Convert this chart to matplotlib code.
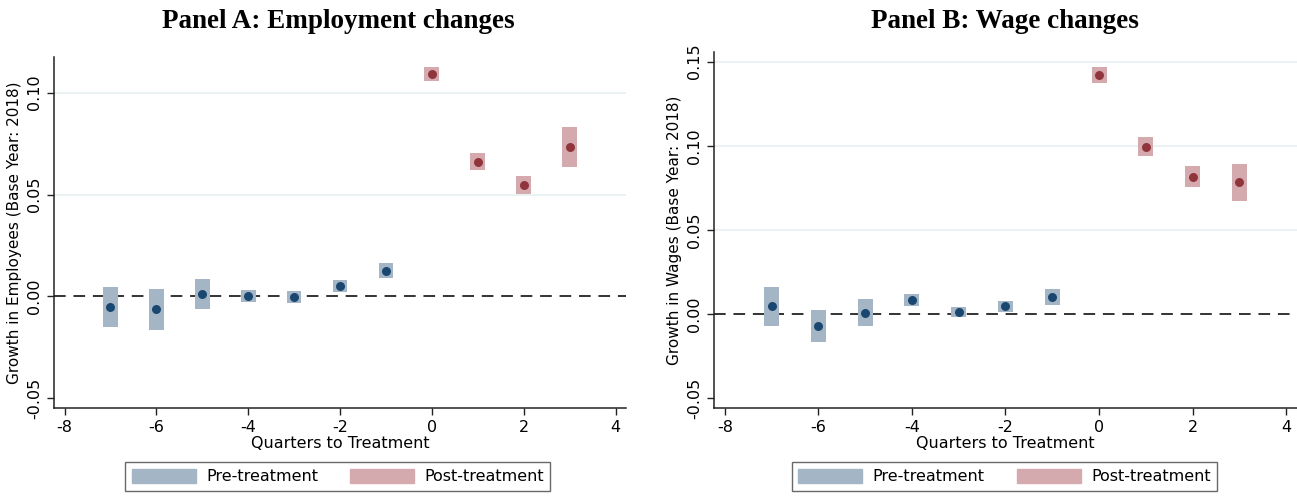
import numpy as np
import matplotlib.pyplot as plt
from matplotlib.patches import Patch

plt.rcParams['axes.unicode_minus'] = False

# Quarters relative to treatment
quarters_pre = [-7, -6, -5, -4, -3, -2, -1]
quarters_post = [0, 1, 2, 3]

# Panel A: employment (point estimate, lower CI, upper CI)
emp_pre = [-0.0054, -0.0064, 0.0013, 0.0002, -0.0002, 0.0051, 0.0127]
emp_pre_lo = [-0.0152, -0.0165, -0.0060, -0.0028, -0.0033, 0.0023, 0.0092]
emp_pre_hi = [0.0044, 0.0036, 0.0087, 0.0031, 0.0026, 0.0080, 0.0163]
emp_post = [0.1090, 0.0662, 0.0547, 0.0735]
emp_post_lo = [0.1056, 0.0619, 0.0503, 0.0636]
emp_post_hi = [0.1124, 0.0703, 0.0593, 0.0832]

# Panel B: wages
wage_pre = [0.0047, -0.0069, 0.0008, 0.0083, 0.0010, 0.0046, 0.0101]
wage_pre_lo = [-0.0071, -0.0164, -0.0069, 0.0046, -0.0020, 0.0014, 0.0053]
wage_pre_hi = [0.0160, 0.0026, 0.0087, 0.0119, 0.0040, 0.0077, 0.0148]
wage_post = [0.1421, 0.0995, 0.0817, 0.0782]
wage_post_lo = [0.1373, 0.0938, 0.0756, 0.0673]
wage_post_hi = [0.1466, 0.1051, 0.0879, 0.0891]

PRE_BOX = '#a4b5c6'
PRE_DOT = '#1a476f'
POST_BOX = '#d4aaae'
POST_DOT = '#90353b'
GRID = '#e8f0f2'


def draw_panel(fig, ax, title, title_x, ylabel, pre, pre_lo, pre_hi,
               post, post_lo, post_hi, yticks, ylim):
    for yt in yticks:
        if yt > 0:
            ax.axhline(yt, color=GRID, lw=1.2, zorder=0)
    ax.axhline(0, color='#333333', lw=1.4, ls=(0, (6, 4)), zorder=1)

    pre_lo = np.array(pre_lo)
    post_lo = np.array(post_lo)
    ax.bar(quarters_pre, np.array(pre_hi) - pre_lo, bottom=pre_lo, width=0.32,
           color=PRE_BOX, zorder=2)
    ax.bar(quarters_post, np.array(post_hi) - post_lo, bottom=post_lo, width=0.32,
           color=POST_BOX, zorder=2)
    ax.scatter(quarters_pre, pre, s=42, color=PRE_DOT, zorder=3, lw=0)
    ax.scatter(quarters_post, post, s=42, color=POST_DOT, zorder=3, lw=0)

    ax.set_xlim(-8.23, 4.23)
    ax.set_ylim(*ylim)
    ax.set_xticks([-8, -6, -4, -2, 0, 2, 4])
    ax.set_yticks(yticks)
    ax.set_yticklabels([f'{v:.2f}' for v in yticks], rotation=90, va='center')
    ax.tick_params(labelsize=11.5, length=5, width=1, color='#222222')
    for s in ['top', 'right']:
        ax.spines[s].set_visible(False)
    for s in ['left', 'bottom']:
        ax.spines[s].set_linewidth(1.1)
        ax.spines[s].set_color('#222222')

    ax.set_xlabel('Quarters to Treatment', fontsize=11.5, labelpad=1)
    ax.set_ylabel(ylabel, fontsize=11, labelpad=4)
    fig.text(title_x, 0.957, title, fontsize=19.5, fontweight='bold',
             family='Liberation Serif', ha='center', va='center')

    handles = [Patch(color=PRE_BOX, label='Pre-treatment'),
               Patch(color=POST_BOX, label='Post-treatment')]
    fig.legend(handles=handles, loc='center', bbox_to_anchor=(title_x, 0.039),
               ncol=2, frameon=True, fancybox=False, edgecolor='#444444',
               fontsize=11.5, handlelength=4.0, handleheight=1.0,
               handletextpad=0.65, columnspacing=2.0, borderpad=0.4,
               borderaxespad=0)


fig = plt.figure(figsize=(12.97, 4.96), dpi=100)
axA = fig.add_axes([0.0416, 0.177, 0.4411, 0.708])
axB = fig.add_axes([0.5505, 0.177, 0.4495, 0.718])

draw_panel(fig, axA, 'Panel A: Employment changes', 0.2605,
           'Growth in Employees (Base Year: 2018)',
           emp_pre, emp_pre_lo, emp_pre_hi, emp_post, emp_post_lo, emp_post_hi,
           [-0.05, 0.0, 0.05, 0.10], (-0.0549, 0.1175))
draw_panel(fig, axB, 'Panel B: Wage changes', 0.7745,
           'Growth in Wages (Base Year: 2018)',
           wage_pre, wage_pre_lo, wage_pre_hi, wage_post, wage_post_lo, wage_post_hi,
           [-0.05, 0.0, 0.05, 0.10, 0.15], (-0.056, 0.1557))

fig.savefig('out.png', dpi=100)
